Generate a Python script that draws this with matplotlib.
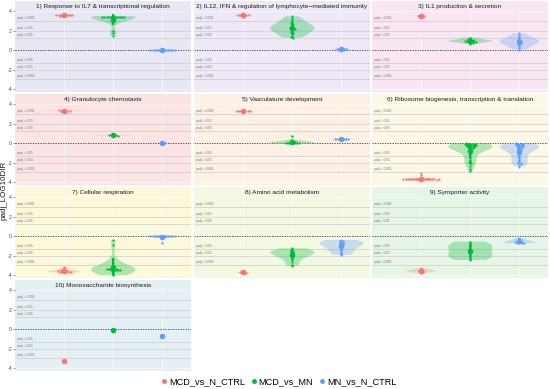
import numpy as np
import matplotlib.pyplot as plt
from matplotlib.lines import Line2D

plt.rcParams['font.family'] = ['Liberation Sans', 'DejaVu Sans']

groups = ['MCD_vs_N_CTRL', 'MCD_vs_MN', 'MN_vs_N_CTRL']
group_colors = ['#F8766D', '#00BA38', '#619CFF']

titles = [
    '1) Response to IL7 & transcriptional regulation',
    '2) IL12, IFN & regulation of lymphocyte\u2212mediated immunity',
    '3) IL1 production & secretion',
    '4) Granulocyte chemotaxis',
    '5) Vasculature development',
    '6) Ribosome biogenesis, transcription & translation',
    '7) Cellular respiration',
    '8) Amino acid metabolism',
    '9) Symporter activity',
    '10) Monosaccharide biosynthesis',
]
panel_bg = ['#E8E8F5', '#EEE8F7', '#F8E7F3', '#FDE4E4', '#FDF0E4',
            '#FDF8E6', '#FBF8DC', '#F3F8E3', '#E7F5E7', '#E5F0F5']

# padj thresholds (as -log10) and their labels
thr_vals = [3, 2, 1.3, -1.3, -2, -3]
thr_labels = ['padj = 0.001', 'padj = 0.01', 'padj = 0.05',
              'padj = 0.05', 'padj = 0.01', 'padj = 0.001']

# padj_LOG10DIR values per panel and comparison
p1_red = [3.55, 3.57, 3.58, 3.59, 3.6, 3.6, 3.61, 3.6, 3.62, 3.63, 3.59, 3.61, 3.6]
p1_green = [3.52, 3.5, 3.48, 3.47, 3.46, 3.46, 3.45, 3.45, 3.44, 3.44, 3.43, 3.42,
            3.4, 3.38, 3.35, 3.3, 3.22, 3.1, 2.95, 2.0, 1.75, 1.47]
p1_blue = [0.05, 0.03, 0.02, 0.01, 0.0, 0.0, -0.01, 0.02, 0.0, 0.01, -0.02, 0.03, 0.0, 0.01]

p2_red = [3.68, 3.67, 3.66, 3.67, 3.65, 3.6, 3.55, 3.5, 3.45]
p2_green = [3.5, 3.3, 3.1, 3.0, 2.8, 2.7, 2.6, 2.5, 2.4, 2.35, 2.3, 2.25, 2.2, 2.1,
            2.0, 1.9, 1.8, 1.65, 1.5, 1.4, 1.3]
p2_blue = [0.2, 0.16, 0.14, 0.12, 0.1, 0.1, 0.08, 0.06, 0.05]

p3_red = [3.62, 3.6, 3.58, 3.57, 3.55, 3.56]
p3_green = [1.3, 1.25, 1.2, 1.15, 1.1, 1.05, 1.02, 1.0, 0.98, 0.97, 0.95, 0.93, 0.92,
            0.9, 0.88, 0.85, 0.8, 0.75, 0.65]
p3_blue = [1.75, 1.55, 1.4, 1.25, 1.15, 1.05, 1.0, 0.95, 0.9, 0.85, 0.8, 0.75, 0.65,
           0.5, 0.35, 0.2, 0.08]

p4_red = [3.38, 3.37, 3.36, 3.35, 3.34, 3.35]
p4_green = [0.84, 0.83, 0.82, 0.81, 0.8]
p4_blue = [0.07, 0.06, 0.05]

p5_red = [3.36, 3.35, 3.33, 3.32, 3.31, 3.33, 3.34]
p5_green = [0.8, 0.2, 0.15, 0.12, 0.1, 0.08, 0.06, 0.05, 0.04, 0.03, 0.02, 0.0]
p5_blue = [0.47, 0.46, 0.45, 0.44, 0.43, 0.42, 0.44]

p6_red = [-3.1, -3.3, -3.68, -3.69, -3.7, -3.7, -3.71, -3.71, -3.72, -3.72, -3.72,
          -3.73, -3.73, -3.74, -3.74, -3.7, -3.71, -3.72, -3.73, -3.69, -3.7, -3.71,
          -3.72, -3.73, -3.74, -3.7, -3.71]
p6_green = [-0.02, -0.05, -0.08, -0.1, -0.1, -0.12, -0.15, -0.15, -0.18, -0.2, -0.2,
            -0.22, -0.25, -0.28, -0.3, -0.3, -0.32, -0.35, -0.38, -0.4, -0.42, -0.45,
            -0.5, -0.55, -0.6, -0.65, -0.7, -0.8, -0.9, -1.0, -1.1, -1.3, -1.5, -1.7,
            -1.85, -1.95, -2.0, -2.05, -2.3, -2.6, -2.9]
p6_blue = [-0.02, -0.05, -0.08, -0.1, -0.12, -0.15, -0.18, -0.2, -0.22, -0.25, -0.28,
           -0.3, -0.33, -0.36, -0.4, -0.45, -0.5, -0.55, -0.6, -0.65, -0.7, -0.8, -0.9,
           -1.0, -1.1, -1.25, -1.4, -1.55, -1.7, -1.85, -1.95, -2.0, -2.05, -2.1, -2.2,
           -2.4]

p7_red = [-3.2, -3.3, -3.4, -3.48, -3.52, -3.55, -3.58, -3.6, -3.62, -3.64, -3.65,
          -3.66, -3.68, -3.7, -3.7, -3.72]
p7_green = [-0.4, -0.9, -2.3, -2.8, -3.1, -3.3, -3.35, -3.38, -3.4, -3.4, -3.41, -3.42,
            -3.42, -3.44, -3.45, -3.48, -3.5, -3.55, -3.6, -3.7, -3.9, -4.0]
p7_blue = [0.05, 0.04, 0.03, 0.02, 0.02, 0.01, 0.0, 0.0, -0.01, -0.02, 0.01, 0.03,
           0.0, -0.01, 0.02, -0.66]

p8_red = [-3.66, -3.69, -3.7, -3.71, -3.72, -3.73, -3.74]
p8_green = [-1.25, -1.35, -1.42, -1.48, -1.52, -1.58, -1.62, -1.68, -1.72, -1.78, -1.85,
            -1.92, -2.0, -2.1, -2.25, -2.45, -2.7, -2.95, -3.05]
p8_blue = [-0.38, -0.45, -0.5, -0.55, -0.6, -0.65, -0.7, -0.75, -0.8, -0.9, -1.0, -1.1,
           -1.2, -1.3, -1.45, -1.6, -1.75, -1.85, -1.92]

p9_red = [-3.3, -3.4, -3.45, -3.5, -3.55, -3.58, -3.6, -3.62, -3.65, -3.7, -3.74]
p9_green = [-0.55, -0.65, -0.75, -0.85, -0.95, -1.05, -1.2, -1.35, -1.5, -1.65, -1.8,
            -1.95, -2.05, -2.15, -2.25, -2.35, -2.44]
p9_blue = [-0.2, -0.3, -0.38, -0.45, -0.5, -0.55, -0.58, -0.62, -0.65, -0.67, -0.68, -0.7]

p10_red = [-3.3]
p10_green = [-0.07]
p10_blue = [-0.65]

panels = [
    [p1_red, p1_green, p1_blue], [p2_red, p2_green, p2_blue],
    [p3_red, p3_green, p3_blue], [p4_red, p4_green, p4_blue],
    [p5_red, p5_green, p5_blue], [p6_red, p6_green, p6_blue],
    [p7_red, p7_green, p7_blue], [p8_red, p8_green, p8_blue],
    [p9_red, p9_green, p9_blue], [p10_red, p10_green, p10_blue],
]


def swarm_x(vals, pos, step=0.045, bin_size=0.1):
    # simple beeswarm: points in the same y-bin are spread sideways
    vals = np.asarray(vals, dtype=float)
    keys = np.floor(vals / bin_size)
    xs = np.empty(len(vals))
    for k in np.unique(keys):
        idx = np.where(keys == k)[0]
        offs = (np.arange(len(idx)) - (len(idx) - 1) / 2) * step
        xs[idx] = pos + offs
    return xs


W, H = 550, 389
fig = plt.figure(figsize=(5.5, 3.89), dpi=100)

col_left = [15, 194, 372]
row_top = [1, 94, 187, 280]
pw, ph = 176, 91
ylo, yhi = -4.3, 5.08

for i, data in enumerate(panels):
    r, c = divmod(i, 3)
    ax = fig.add_axes([col_left[c] / W, 1 - (row_top[r] + ph) / H, pw / W, ph / H])
    ax.set_facecolor(panel_bg[i])
    for s in ax.spines.values():
        s.set_visible(False)
    ax.set_xlim(0, 3.58)
    ax.set_ylim(ylo, yhi)

    # grid
    ax.vlines([1, 2, 3], ylo, 4.3, color='white', lw=0.5, alpha=0.7, zorder=0)
    ax.hlines([-4, -2, 2, 4], 0, 3.58, color='white', lw=0.4, alpha=0.7, zorder=0)
    ax.hlines(thr_vals, 0, 3.58, color='#c9c9cc', lw=0.5, zorder=1)
    for tv, tl in zip(thr_vals, thr_labels):
        ax.text(0.04, tv + 0.12, tl, fontsize=2.3, color='#777777', ha='left', va='bottom')
    ax.axhline(0, color='#333333', lw=0.6, ls=(0, (1.5, 1.5)), zorder=2)

    nmax = max(len(v) for v in data)
    for g, vals in enumerate(data):
        pos = g + 1
        col = group_colors[g]
        arr = np.asarray(vals, dtype=float)
        if len(arr) > 1 and arr.std() > 0:
            parts = ax.violinplot(arr, positions=[pos], widths=0.9 * len(arr) / nmax,
                                  showextrema=False, bw_method='silverman')
            for b in parts['bodies']:
                b.set_facecolor(col)
                b.set_edgecolor('none')
                b.set_alpha(0.3)
                b.set_zorder(3)
        ax.plot(swarm_x(arr, pos), arr, 'o', ms=1.6, mew=0, color=col, zorder=4)
        m = arr.mean()
        sd = arr.std(ddof=1) if len(arr) > 1 else 0
        if sd > 0:
            ax.vlines(pos, m - sd, m + sd, color=col, lw=1.5, zorder=5)
        ax.plot(pos, m, 'o', ms=4, mew=0, color=col, zorder=6)

    ax.text(0.5, 1 - 5.2 / ph, titles[i], transform=ax.transAxes, ha='center',
            va='center', fontsize=4.65, color='#1a1a1a')

    ax.set_xticks([])
    ax.set_yticks([-4, -2, 0, 2, 4])
    if c == 0:
        ax.set_yticklabels(['-4', '-2', '0', '2', '4'])
        ax.tick_params(axis='y', labelsize=3.8, colors='#4d4d4d', length=1.2, width=0.4, pad=1)
    else:
        ax.set_yticklabels([])
        ax.tick_params(axis='y', length=0)

fig.text(4 / W, 1 - 190 / H, 'padj_LOG10DIR', rotation=90, ha='center', va='center',
         fontsize=5.8, color='#1a1a1a')

handles = [Line2D([], [], marker='o', ls='none', ms=3.5, mew=0, color=gc) for gc in group_colors]
fig.legend(handles, groups, loc='center', bbox_to_anchor=(279 / W, 1 - 382 / H),
           ncol=3, frameon=False, fontsize=6.6, handlelength=0.6, handletextpad=0.2,
           columnspacing=0.7, borderaxespad=0)

fig.savefig('out.png', dpi=100)
